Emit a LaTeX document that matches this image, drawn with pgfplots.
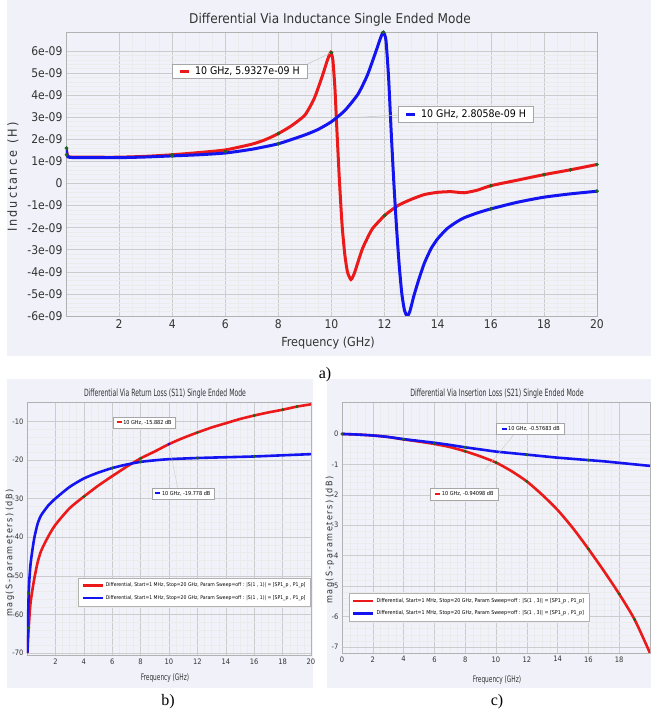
\documentclass[border=0pt]{standalone}
\usepackage{fontspec}
\setmainfont{DejaVu Sans Condensed}
\newfontfamily\capfont{Liberation Serif}
\usepackage{graphicx}
\usepackage{pgfplots}
\pgfplotsset{compat=1.18}

\definecolor{cred}{RGB}{235,25,25}
\definecolor{cblue}{RGB}{20,20,240}
\definecolor{cmark}{RGB}{30,100,30}
\definecolor{framebg}{RGB}{241,242,249}

\tikzset{anno/.style={draw=gray!70, fill=white, inner sep=1.5pt, line width=0.5pt}}
\pgfplotsset{
  myaxis/.style={
    scale only axis, anchor=south west,
    axis line style={gray!60},
    grid=both,
    major grid style={gray!40, line width=0.5pt},
    minor grid style={gray!16, line width=0.4pt},
    major tick length=0pt, minor tick length=0pt,
    /pgf/number format/assume math mode=true,
    scaled y ticks=false, scaled x ticks=false,
    legend cell align=left,
  },
  mk/.style={only marks, mark=*, mark size=1.7pt, color=cmark, forget plot},
}

\begin{document}
\begin{tikzpicture}
\path[use as bounding box] (0pt,0pt) rectangle (651pt,716pt);
\fill[framebg] (7pt,360pt) rectangle (651pt,716pt);
\fill[framebg] (7pt,28pt) rectangle (313pt,337pt);
\fill[framebg] (327pt,28pt) rectangle (651pt,337pt);

% ---------------- Panel a ----------------
\begin{axis}[myaxis, at={(66pt,400pt)}, width=531pt, height=284pt,
  xmin=0, xmax=20, ymin=-6e-9, ymax=6.86e-9,
  xtick={2,4,6,8,10,12,14,16,18,20}, minor x tick num=3,
  ytick={-6e-9,-5e-9,-4e-9,-3e-9,-2e-9,-1e-9,0,1e-9,2e-9,3e-9,4e-9,5e-9,6e-9},
  yticklabels={-6e-09,-5e-09,-4e-09,-3e-09,-2e-09,-1e-09,0,1e-09,2e-09,3e-09,4e-09,5e-09,6e-09},
  minor y tick num=4,
  tick label style={font=\fontsize{12}{13}\selectfont, text=black!80},
]
\addplot[cred, line width=3pt, smooth, tension=0.35] coordinates {
(0.001,1.65e-9) (0.05,1.3e-9) (0.15,1.2e-9) (1,1.19e-9) (2,1.19e-9) (3,1.23e-9) (4,1.3e-9) (5,1.4e-9) (6,1.52e-9) (7,1.78e-9) (7.5,1.98e-9) (8,2.26e-9) (8.5,2.62e-9) (9,3.1e-9) (9.35,3.85e-9) (9.65,4.85e-9) (9.85,5.6e-9) (9.97,5.93e-9) (10.05,5.6e-9) (10.13,4.3e-9) (10.2,2.5e-9) (10.3,0.1e-9) (10.4,-1.9e-9) (10.5,-3.2e-9) (10.6,-4.0e-9) (10.73,-4.35e-9) (10.85,-4.1e-9) (11,-3.55e-9) (11.15,-3.0e-9) (11.3,-2.6e-9) (11.54,-2.05e-9) (12,-1.45e-9) (12.5,-1.0e-9) (13,-0.72e-9) (13.5,-0.5e-9) (14,-0.4e-9) (14.5,-0.37e-9) (15,-0.42e-9) (15.5,-0.3e-9) (16,-0.1e-9) (17,0.15e-9) (18,0.4e-9) (19,0.62e-9) (20,0.86e-9)
};
\addplot[cblue, line width=3pt, smooth, tension=0.35] coordinates {
(0.001,1.55e-9) (0.05,1.25e-9) (0.15,1.18e-9) (1,1.17e-9) (2,1.17e-9) (3,1.2e-9) (4,1.25e-9) (5,1.3e-9) (6,1.38e-9) (7,1.55e-9) (8,1.8e-9) (9,2.2e-9) (9.5,2.45e-9) (10,2.8e-9) (10.5,3.3e-9) (11,4.05e-9) (11.35,4.9e-9) (11.65,5.9e-9) (11.85,6.6e-9) (11.95,6.85e-9) (12.05,6.5e-9) (12.15,4.8e-9) (12.25,2.3e-9) (12.35,0) (12.45,-2e-9) (12.55,-3.7e-9) (12.65,-5e-9) (12.75,-5.75e-9) (12.85,-6.0e-9) (12.95,-5.8e-9) (13.1,-5.1e-9) (13.3,-4.3e-9) (13.5,-3.6e-9) (13.75,-2.95e-9) (14,-2.5e-9) (14.35,-2.05e-9) (14.7,-1.75e-9) (15,-1.55e-9) (15.5,-1.33e-9) (16,-1.15e-9) (17,-0.85e-9) (18,-0.62e-9) (19,-0.47e-9) (20,-0.35e-9)
};
\addplot[mk] coordinates {(0.02,1.6e-9) (0.02,1.3e-9) (4,1.3e-9) (8,2.26e-9) (10,5.93e-9) (12,-1.45e-9) (16,-0.1e-9) (18,0.4e-9) (19,0.62e-9) (20,0.86e-9) (4,1.25e-9) (6,1.45e-9) (8,1.8e-9) (11.95,6.85e-9) (16,-1.15e-9) (20,-0.35e-9)};
\draw[gray!45, line width=0.5pt] (axis cs:9.1,5.41e-9) -- (axis cs:10,5.93e-9);
\draw[gray!45, line width=0.5pt] (axis cs:10.3,2.95e-9) -- (axis cs:12.53,3.1e-9);
\node[anno, minimum width=135pt, minimum height=14pt, font=\fontsize{10.5}{11}\selectfont] at (axis cs:6.55,5.085e-9) {\textcolor{cred}{\rule[0.3ex]{9pt}{3pt}}\ \ 10 GHz, 5.9327e-09 H};
\node[anno, minimum width=135pt, minimum height=16pt, font=\fontsize{10.5}{11}\selectfont] at (axis cs:15.07,3.135e-9) {\textcolor{cblue}{\rule[0.3ex]{9pt}{3pt}}\ \ 10 GHz, 2.8058e-09 H};
\end{axis}
\node[font=\fontsize{13.5}{14}\selectfont, text=black!80] at (330pt,696pt) {Differential Via Inductance Single Ended Mode};
\node[rotate=90, font=\fontsize{12.5}{13}\selectfont, text=black!80] at (13pt,539pt) {I\,n\,d\,u\,c\,t\,a\,n\,c\,e\ \ (\,H\,)};
\node[font=\fontsize{12.5}{13}\selectfont, text=black!80] at (328pt,373pt) {Frequency (GHz)};
\node[font=\capfont\fontsize{16}{17}\selectfont] at (325pt,341pt) {a)};

% ---------------- Panel b ----------------
\begin{axis}[myaxis, at={(27pt,61pt)}, width=284pt, height=253pt,
  xmin=0, xmax=20, ymin=-70.5, ymax=-5,
  xtick={2,4,6,8,10,12,14,16,18,20}, minor x tick num=3,
  ytick={-70,-60,-50,-40,-30,-20,-10}, minor y tick num=4,
  tick label style={font=\fontsize{7.5}{8}\selectfont, text=black!80},
  legend style={at={(0.18,0.305)}, anchor=north west, draw=gray!60, fill=white,
    font=\fontsize{5.1}{5.5}\selectfont, row sep=3pt, inner sep=3pt},
  legend image code/.code={\draw[#1, line width=2.6pt] (0pt,0pt) -- (20pt,0pt);},
]
\addplot[cred, line width=2.6pt, smooth, tension=0.4] coordinates {
(0.03,-70) (0.12,-63.5) (0.25,-57) (0.5,-51) (0.75,-46.5) (1,-43.5) (1.5,-39.8) (2,-36.8) (3,-32.5) (4,-29.5) (5,-26.7) (6,-24.2) (7,-21.8) (8,-19.6) (9,-17.8) (10,-15.9) (11,-14.3) (12,-12.9) (13,-11.6) (14,-10.5) (15,-9.4) (16,-8.5) (17,-7.7) (18,-7.0) (19,-6.2) (20,-5.6)
};
\addlegendentry{Differential, Start=1 MHz, Stop=20 GHz, Param Sweep=off : |S(1 , 1)| = [SP1\_p , P1\_p]}
\addplot[cblue, line width=2.6pt, smooth, tension=0.4] coordinates {
(0.03,-70) (0.12,-54.5) (0.25,-47) (0.5,-40.5) (0.75,-36.5) (1,-34.3) (1.5,-31.8) (2,-30.0) (3,-27.0) (4,-24.8) (5,-23.3) (6,-22.1) (7,-21.2) (8,-20.5) (9,-20.1) (10,-19.8) (12,-19.5) (14,-19.3) (16,-19.1) (18,-18.8) (20,-18.5)
};
\addlegendentry{Differential, Start=1 MHz, Stop=20 GHz, Param Sweep=off : |S(1 , 1)| = [SP1\_p , P1\_p]}
\addplot[mk, mark size=1.3pt] coordinates {(0.12,-63.5) (4,-29.5) (8,-19.6) (12,-12.9) (16,-8.5) (18,-7.0) (19,-6.2) (0.12,-54.5) (6,-22.1) (8,-20.5) (12,-19.5) (16,-19.1)};
\addplot[only marks, mark=*, mark size=1.3pt, cblue, forget plot] coordinates {(10,-15.9)};
\draw[gray!40, line width=0.4pt] (axis cs:10,-15.9) -- (axis cs:10.6,-27.1);
\node[anno, minimum width=62pt, minimum height=11pt, font=\fontsize{5.5}{6}\selectfont] at (axis cs:8.25,-10.25) {\textcolor{cred}{\rule[0.25ex]{5pt}{2pt}}\ 10 GHz, -15.882 dB};
\node[anno, minimum width=62pt, minimum height=11pt, font=\fontsize{5.5}{6}\selectfont] at (axis cs:10.98,-28.65) {\textcolor{cblue}{\rule[0.25ex]{5pt}{2pt}}\ 10 GHz, -19.778 dB};
\end{axis}
\node[font=\fontsize{10}{11}\selectfont, text=black!80] at (165pt,322pt) {\scalebox{0.68}[1]{Differential Via Return Loss (S11) Single Ended Mode}};
\node[rotate=90, font=\fontsize{9}{10}\selectfont, text=black!80] at (10pt,163pt) {m\,a\,g\,(\,S\,-\,p\,a\,r\,a\,m\,e\,t\,e\,r\,s\,)\ (\,d\,B\,)};
\node[font=\fontsize{9}{10}\selectfont, text=black!80] at (165pt,38pt) {\scalebox{0.72}[1]{Frequency (GHz)}};
\node[font=\capfont\fontsize{16}{17}\selectfont] at (168pt,14pt) {b)};

% ---------------- Panel c ----------------
\begin{axis}[myaxis, at={(342pt,63pt)}, width=308pt, height=251pt,
  xmin=0, xmax=20, ymin=-7.2, ymax=1.05,
  xtick={0,2,4,6,8,10,12,14,16,18}, minor x tick num=3,
  ytick={-7,-6,-5,-4,-3,-2,-1,0}, minor y tick num=4,
  tick label style={font=\fontsize{7.5}{8}\selectfont, text=black!80},
  legend style={at={(0.022,0.239)}, anchor=north west, draw=gray!60, fill=white,
    font=\fontsize{5.3}{5.7}\selectfont, row sep=3pt, inner sep=3pt},
  legend image code/.code={\draw[#1, line width=2.6pt] (0pt,0pt) -- (20pt,0pt);},
]
\addplot[cred, line width=2.6pt, smooth, tension=0.4] coordinates {
(0,0) (1,-0.02) (2,-0.05) (3,-0.1) (4,-0.18) (5,-0.25) (6,-0.33) (7,-0.43) (8,-0.57) (9,-0.74) (10,-0.94) (11,-1.22) (12,-1.56) (13,-2.0) (14,-2.5) (15,-3.1) (16,-3.78) (17,-4.5) (18,-5.26) (19,-6.1) (20,-7.2)
};
\addlegendentry{Differential, Start=1 MHz, Stop=20 GHz, Param Sweep=off : |S(1 , 3)| = [SP1\_p , P1\_p]}
\addplot[cblue, line width=2.6pt, smooth, tension=0.4] coordinates {
(0,0) (1,-0.02) (2,-0.05) (3,-0.1) (4,-0.17) (5,-0.23) (6,-0.29) (7,-0.36) (8,-0.44) (9,-0.51) (10,-0.58) (11,-0.63) (12,-0.68) (13,-0.73) (14,-0.78) (15,-0.82) (16,-0.86) (17,-0.9) (18,-0.95) (19,-1.0) (20,-1.05)
};
\addlegendentry{Differential, Start=1 MHz, Stop=20 GHz, Param Sweep=off : |S(1 , 3)| = [SP1\_p , P1\_p]}
\addplot[mk, mark size=1.3pt] coordinates {(0,0) (4,-0.18) (6,-0.32) (8,-0.57) (8,-0.44) (10,-0.94) (12,-1.56) (12,-0.68) (16,-3.78) (16,-0.86) (18,-5.26) (19,-6.1)};
\draw[gray!40, line width=0.4pt] (axis cs:11.2,0.0) -- (axis cs:9.25,-1.2);
\node[anno, minimum width=68pt, minimum height=11pt, font=\fontsize{5.5}{6}\selectfont] at (axis cs:12.25,0.165) {\textcolor{cblue}{\rule[0.25ex]{5pt}{2pt}}\ 10 GHz, -0.57683 dB};
\node[anno, minimum width=68pt, minimum height=12pt, font=\fontsize{5.5}{6}\selectfont] at (axis cs:7.95,-1.975) {\textcolor{cred}{\rule[0.25ex]{5pt}{2pt}}\ 10 GHz, -0.94098 dB};
\end{axis}
\node[font=\fontsize{10}{11}\selectfont, text=black!80] at (497pt,322pt) {\scalebox{0.7}[1]{Differential Via Insertion Loss (S21) Single Ended Mode}};
\node[rotate=90, font=\fontsize{9}{10}\selectfont, text=black!80] at (330pt,176pt) {m\,a\,g\,(\,S\,-\,p\,a\,r\,a\,m\,e\,t\,e\,r\,s\,)\ (\,d\,B\,)};
\node[font=\fontsize{9}{10}\selectfont, text=black!80] at (497pt,36pt) {\scalebox{0.72}[1]{Frequency (GHz)}};
\node[font=\capfont\fontsize{16}{17}\selectfont] at (497pt,14pt) {c)};
\end{tikzpicture}
\end{document}
